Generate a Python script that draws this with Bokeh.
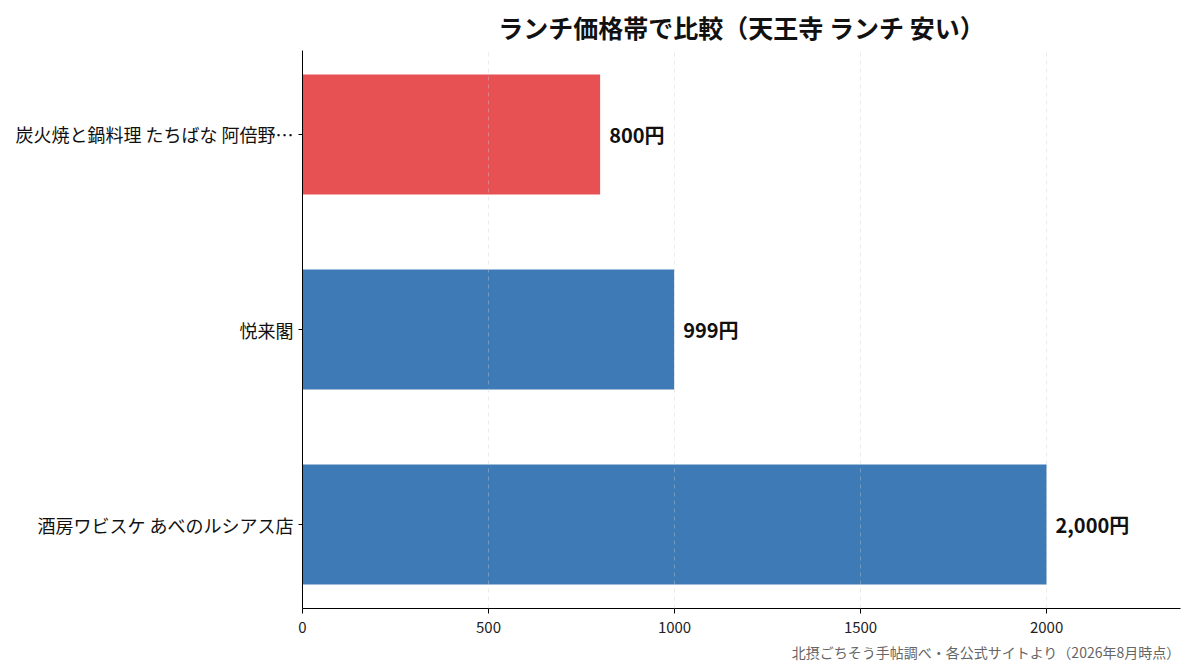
from bokeh.plotting import figure
from bokeh.models import FactorRange, FixedTicker, Title, ColumnDataSource
from bokeh.core.properties import value
from bokeh.embed import file_html
from bokeh.resources import INLINE

# data (top to bottom as displayed)
shops = ["炭火焼と鍋料理 たちばな 阿倍野…", "悦来閣", "酒房ワビスケ あべのルシアス店"]
prices = [800, 999, 2000]
bar_colors = ["#e75153", "#3e7ab6", "#3e7ab6"]
x_ticks = [0, 500, 1000, 1500, 2000]
title_text = "ランチ価格帯で比較（天王寺 ランチ 安い）"
source_text = "北摂ごちそう手帖調べ・各公式サイトより（2026年8月時点）"

FONT = "Noto Sans CJK JP"

factors = list(reversed(shops))
src = ColumnDataSource(dict(
    shop=shops,
    price=prices,
    color=bar_colors,
    label=[f"{v:,}円" for v in prices],
))

p = figure(
    frame_width=878, frame_height=558,
    y_range=FactorRange(factors=factors, range_padding=-0.07, range_padding_units="absolute"),
    x_range=(0, 2360),
    output_backend="svg", toolbar_location=None,
    min_border_left=302, min_border_right=10, min_border_top=50, min_border_bottom=40,
)
p.outline_line_color = None
p.background_fill_color = "white"

p.hbar(y="shop", right="price", left=0, height=0.615, color="color", line_color=None, source=src)
p.text(x="price", y="shop", text="label", source=src, x_offset=9,
       text_baseline="middle", text_align="left",
       text_font=value(FONT), text_font_size="20px", text_font_style="bold", text_color="#111111")

# title
p.title.text = title_text
p.title.align = "center"
p.title.text_font = FONT
p.title.text_font_size = "25px"
p.title.text_font_style = "bold"
p.title.text_color = "#111111"
p.title.offset = -6
p.title.standoff = 12

# footnote
foot = Title(text=source_text, align="right", text_font=FONT, text_font_size="14px",
             text_font_style="normal", text_color="#666666", standoff=8)
p.add_layout(foot, "below")

# axes
p.xaxis.ticker = FixedTicker(ticks=x_ticks)
p.xaxis.minor_tick_line_color = None
p.xaxis.major_label_text_font = FONT
p.xaxis.major_label_text_font_size = "15px"
p.xaxis.major_label_text_color = "#222222"
p.xaxis.axis_line_color = "black"
p.xaxis.major_tick_line_color = "black"
p.xaxis.major_tick_out = 5
p.xaxis.major_tick_in = 0
p.xaxis.major_label_standoff = 8

p.yaxis.major_label_text_font = FONT
p.yaxis.major_label_text_font_size = "18px"
p.yaxis.major_label_text_color = "#111111"
p.yaxis.axis_line_color = "black"
p.yaxis.major_tick_line_color = "black"
p.yaxis.major_tick_out = 4
p.yaxis.major_tick_in = 0
p.yaxis.minor_tick_line_color = None

p.ygrid.grid_line_color = None
p.xgrid.ticker = FixedTicker(ticks=x_ticks[1:])
p.xgrid.grid_line_color = "#cccccc"
p.xgrid.grid_line_alpha = 0.4
p.xgrid.grid_line_dash = "4 4"
p.xgrid.level = "overlay"

open("out.html", "w").write(file_html(p, INLINE))
